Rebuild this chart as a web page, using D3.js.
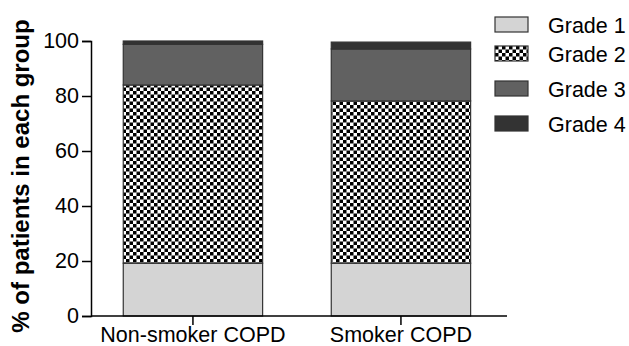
<!DOCTYPE html>
<html>
<head>
<meta charset="utf-8">
<script src="https://cdn.jsdelivr.net/npm/d3@7"></script>
<style>
  body { margin: 0; background: #fff; }
  text { font-family: "Liberation Sans", Arial, sans-serif; }
</style>
</head>
<body>
<svg id="chart" width="629" height="346"></svg>
<script>
const groups = ['Non-smoker COPD', 'Smoker COPD']
const grades = ['Grade 1', 'Grade 2', 'Grade 3', 'Grade 4']
const grade1 = [19.2, 19.2]
const grade2 = [64.8, 59.0]
const grade3 = [14.8, 18.9]
const grade4 = [1.2, 2.5]
const yTicks = [0, 20, 40, 60, 80, 100]

const rows = groups.map((g, i) => ({
  group: g,
  'Grade 1': grade1[i], 'Grade 2': grade2[i], 'Grade 3': grade3[i], 'Grade 4': grade4[i]
}))

const svg = d3.select('#chart')
const fills = ['#d4d4d4', 'url(#checker)', '#616161', '#333333']

// checker pattern for grade 2
const defs = svg.append('defs')
const pat = defs.append('pattern')
  .attr('id', 'checker')
  .attr('patternUnits', 'userSpaceOnUse')
  .attr('width', 7).attr('height', 7)
pat.append('rect').attr('width', 7).attr('height', 7).attr('fill', '#fff')
pat.append('rect').attr('width', 3.5).attr('height', 3.5).attr('fill', '#000')
pat.append('rect').attr('x', 3.5).attr('y', 3.5).attr('width', 3.5).attr('height', 3.5).attr('fill', '#000')

const x = d3.scaleBand().domain(groups).range([91, 507])
  .paddingInner(0.33).paddingOuter(0.165).align(0.47)
const y = d3.scaleLinear().domain([0, 100]).range([316, 41])

const stack = d3.stack().keys(grades)(rows)

svg.append('g').selectAll('g')
  .data(stack)
  .join('g')
    .attr('fill', (d, i) => fills[i])
  .selectAll('rect')
  .data(d => d)
  .join('rect')
    .attr('x', d => x(d.data.group))
    .attr('width', x.bandwidth())
    .attr('y', d => y(d[1]))
    .attr('height', d => y(d[0]) - y(d[1]))
    .attr('stroke', '#333')
    .attr('stroke-width', 1.2)

const yAxis = svg.append('g')
  .attr('transform', 'translate(91,0)')
  .call(d3.axisLeft(y).tickValues(yTicks).tickSize(9).tickPadding(3))
const xAxis = svg.append('g')
  .attr('transform', 'translate(0,316)')
  .call(d3.axisBottom(x).tickSize(9).tickPadding(2))

;[yAxis, xAxis].forEach(a => {
  a.select('.domain').attr('stroke', '#000').attr('stroke-width', 1.5)
  a.selectAll('.tick line').attr('stroke', '#000').attr('stroke-width', 1.5)
  a.selectAll('.tick text').attr('font-size', 21.5).attr('fill', '#000')
    .style('font-family', '"Liberation Sans", Arial, sans-serif')
})
xAxis.select('.domain').attr('d', 'M91,0H507')

svg.append('text')
  .attr('transform', 'translate(29,176) rotate(-90)')
  .attr('text-anchor', 'middle')
  .attr('font-size', 24)
  .attr('font-weight', 'bold')
  .text('% of patients in each group')

// legend
const legY = [17, 46, 81, 116]
const leg = svg.append('g').selectAll('g')
  .data(grades)
  .join('g')
    .attr('transform', (d, i) => `translate(495,${legY[i]})`)
leg.append('rect')
  .attr('width', 33).attr('height', 15)
  .attr('fill', (d, i) => fills[i])
  .attr('stroke', '#333').attr('stroke-width', 1.2)
leg.append('text')
  .attr('x', 53).attr('y', 8)
  .attr('dy', '0.35em')
  .attr('font-size', 21.5)
  .text(d => d)
</script>
</body>
</html>
